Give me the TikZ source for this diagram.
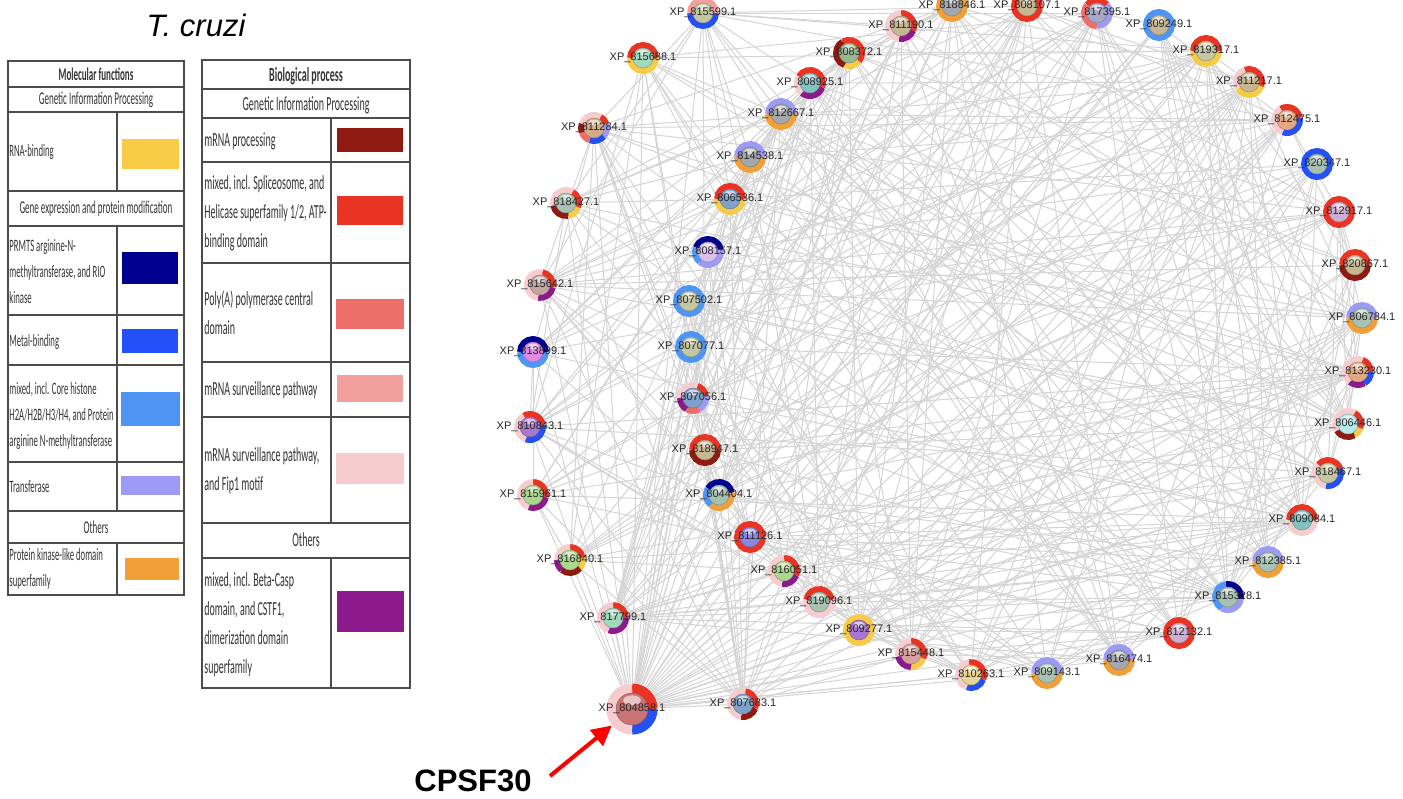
\documentclass[tikz,border=0pt]{standalone}
\usepackage{fontspec}
\setmainfont{Liberation Sans}
\newfontfamily\tabfont[FakeStretch=0.5]{Carlito}
\usetikzlibrary{arrows.meta,backgrounds}

% legend / ring colours
\definecolor{cyel}{HTML}{F7CB45}
\definecolor{cnavy}{HTML}{00008E}
\definecolor{cblue}{HTML}{2450F8}
\definecolor{clblue}{HTML}{4F96F4}
\definecolor{clav}{HTML}{9C9AF4}
\definecolor{corange}{HTML}{F1A039}
\definecolor{cdred}{HTML}{8E1A12}
\definecolor{cred}{HTML}{E93423}
\definecolor{csalmon}{HTML}{EE6F6A}
\definecolor{cpink}{HTML}{F2A09D}
\definecolor{clpink}{HTML}{F7CCCE}
\definecolor{cpurple}{HTML}{8C1A8C}
% ball colours
\definecolor{bmint}{HTML}{A2D8BC}
\definecolor{btan}{HTML}{D2AC84}
\definecolor{bgreen}{HTML}{A8C2B2}
\definecolor{bgray}{HTML}{A4A8AC}
\definecolor{bsteel}{HTML}{7FA2CA}
\definecolor{blilac}{HTML}{DCC0EC}
\definecolor{bmauve}{HTML}{CEAED2}
\definecolor{bteal}{HTML}{82C2C2}
\definecolor{bolive}{HTML}{98B892}
\definecolor{bsand}{HTML}{C6B692}
\definecolor{bslate}{HTML}{A8A8C8}
\definecolor{bpeach}{HTML}{E2AA84}
\definecolor{bcyan}{HTML}{B6EAEA}
\definecolor{bkhaki}{HTML}{C4C8A2}
\definecolor{blime}{HTML}{ACD88E}
\definecolor{bviolet}{HTML}{8A86E4}
\definecolor{bpurple}{HTML}{A878D0}
\definecolor{brose}{HTML}{D6A0A0}
\definecolor{bdust}{HTML}{C4A4A4}
\definecolor{bmagenta}{HTML}{E08AE2}
\definecolor{bred}{HTML}{C87474}
\definecolor{bcream}{HTML}{E6D692}

% one protein: [size]{id}{x,y}{ball}{arcs start/end/colour}
\newcommand\prot[5][1]{%
  \pgfmathsetmacro\rr{#1*13}%
  \pgfmathsetmacro\rw{#1*3}%
  \pgfmathsetmacro\rb{#1*10}%
  \node[protein, minimum size=#1*16pt] (p#2) at (#3) {};
  \foreach \s/\e/\col in {#5}
    \draw[ringseg, line width=\rw pt, \col] (p#2.center) ++(\s:\rr) arc[start angle=\s, end angle=\e, radius=\rr];
  \fill[#4, draw=#4!70!black, line width=.2pt] (p#2.center) circle[radius=\rb];
  \fill[white, opacity=.6] (p#2.center) ++(0,-#1*5.5) ellipse[x radius=#1*5.5, y radius=#1*3];
  \node[xplabel] at (p#2.center) {XP\_#2.1};
}

\def\allprots{815599,815688,811284,818427,812667,814538,806536,808157,808925,808372,
  811190,818846,808107,817395,809249,819317,811217,812475,820347,812917,820867,806784,
  813230,806446,818467,809084,812385,815328,812132,816474,809143,810263,815448,809277,
  819096,816051,811126,804404,815961,816840,817799,807683,815642,813899,810843,807502,
  807077,807056,818947}

\begin{document}
\begin{tikzpicture}[x=0.5pt, y=-0.5pt,
		protein/.style = {circle, inner sep=0pt, draw=none},
		ringseg/.style = {line cap=butt},
		xplabel/.style = {inner sep=0pt, text=black!85, font=\fontsize{5.5}{6}\selectfont},
		ppi/.style = {draw=black!17, line width=0.5pt},
		tabframe/.style = {draw=black!70, line width=1.2pt},
		tabcol/.style = {draw=black!70, line width=0.7pt},
		cellL/.style = {anchor=west, align=left, inner sep=0pt, text=black!80, font=\tabfont\fontsize{8.7}{13}\selectfont},
		cellR/.style = {anchor=west, align=left, inner sep=0pt, text=black!80, font=\tabfont\fontsize{10}{14.5}\selectfont},
		headL/.style = {inner sep=0pt, text=black!80, font=\tabfont\fontsize{9}{13}\selectfont},
		headR/.style = {inner sep=0pt, text=black!80, font=\tabfont\fontsize{10}{14.5}\selectfont}
		]
	\useasboundingbox (0,0) rectangle (1403,798);

	\node[font=\itshape\fontsize{15.5}{18}\selectfont] (title) at (196,25) {T. cruzi};

	% molecular functions table
	\draw[tabframe] (8,61) rectangle (184,595);
	\foreach \y in {87,112,191,226,315,365,462,511,543}
		\draw[tabframe] (8,\y) -- (184,\y);
	\foreach \a/\b in {112/191,226/511,543/595}
		\draw[tabcol] (117,\a) -- (117,\b);
	\node[headL, font=\tabfont\bfseries\fontsize{9}{13}\selectfont] (mfhead) at (96,74) {Molecular functions};
	\node[headL] (mfgip) at (96,100) {Genetic Information Processing};
	\node[cellL] (rnab) at (9,152) {RNA-binding};
	\node[headL] (mfgene) at (96,209) {Gene expression and protein modification};
	\node[cellL] (prmt) at (9,272) {PRMTS arginine-N-\\methyltransferase, and RIO\\kinase};
	\node[cellL] (metal) at (9,342) {Metal-binding};
	\node[cellL] (hist) at (9,416) {mixed, incl. Core histone\\H2A/H2B/H3/H4, and Protein\\arginine N-methyltransferase};
	\node[cellL] (trans) at (9,487) {Transferase};
	\node[headL] (mfoth) at (96,527) {Others};
	\node[cellL] (kinase) at (9,569) {Protein kinase-like domain\\superfamily};
	\fill[cyel] (122,139) rectangle (179,169);
	\fill[cnavy] (122,252) rectangle (178,284);
	\fill[cblue] (122,329) rectangle (178,353);
	\fill[clblue] (121,392) rectangle (180,426);
	\fill[clav] (121,476) rectangle (180,495);
	\fill[corange] (125,558) rectangle (179,580);

	% biological process table
	\draw[tabframe] (202,60) rectangle (410,688);
	\foreach \y in {89,118,162,263,362,417,523,558}
		\draw[tabframe] (202,\y) -- (410,\y);
	\foreach \a/\b in {118/523,558/688}
		\draw[tabcol] (331,\a) -- (331,\b);
	\node[headR, font=\tabfont\bfseries\fontsize{10}{14.5}\selectfont] (bphead) at (306,76) {Biological process};
	\node[headR] (bpgip) at (306,105) {Genetic Information Processing};
	\node[cellR] (mrna) at (204,141) {mRNA processing};
	\node[cellR] (splice) at (204,213) {mixed, incl. Spliceosome, and\\Helicase superfamily 1/2, ATP-\\binding domain};
	\node[cellR] (polya) at (204,313) {Poly(A) polymerase central\\domain};
	\node[cellR] (surv) at (204,390) {mRNA surveillance pathway};
	\node[cellR] (fip) at (204,471) {mRNA surveillance pathway,\\and Fip1 motif};
	\node[headR] (bpoth) at (306,540) {Others};
	\node[cellR] (casp) at (204,625) {mixed, incl. Beta-Casp\\domain, and CSTF1,\\dimerization domain\\superfamily};
	\fill[cdred] (337,128) rectangle (403,152);
	\fill[cred] (337,196) rectangle (403,225);
	\fill[csalmon] (336,299) rectangle (404,329);
	\fill[cpink] (337,375) rectangle (403,402);
	\fill[clpink] (336,453) rectangle (404,484);
	\fill[cpurple] (337,591) rectangle (404,632);

	% network, outer rim
	\prot{815599}{703,13}{bkhaki}{0/180/cblue,180/360/cpink}
	\prot{815688}{643,58}{bmint}{0/180/cyel,180/360/cred}
	\prot{811284}{594,128}{btan}{-60/-20/cred,-20/40/clav,40/110/cblue,110/160/csalmon,160/200/cdred,200/300/clpink}
	\prot{818427}{566,203}{bgreen}{-60/20/cred,20/80/cyel,80/170/cdred,170/300/clpink}
	\prot{815642}{540,285}{bdust}{-80/10/cred,10/100/cpurple,100/280/clpink}
	\prot{813899}{533,352}{bmagenta}{0/180/clblue,180/360/cnavy}
	\prot{810843}{530,427}{bpurple}{-120/-10/cred,-10/110/cblue,110/240/clpink}
	\prot{815961}{533,495}{blime}{-90/10/cred,10/110/cpurple,110/270/clpink}
	\prot{816840}{570,560}{blime}{-90/-10/cred,-10/40/cyel,40/130/cdred,130/180/cpurple,180/270/clpink}
	\prot{817799}{613,618}{bmint}{-90/0/cred,0/110/cpurple,110/270/clpink}
	\prot{807683}{743,704}{bsteel}{-80/20/cred,20/100/cdred,100/280/clpink}
	\prot{819096}{819,602}{bgreen}{-170/-10/cred,-10/190/clpink}
	\prot{809277}{859,630}{bpurple}{0/360/cyel}
	\prot{815448}{911,654}{brose}{-90/20/cred,20/90/cyel,90/170/cpurple,170/270/clpink}
	\prot{810263}{971,675}{bcream}{-100/20/cred,20/110/cblue,110/260/clpink}
	\prot{809143}{1047,673}{bgreen}{0/180/corange,180/360/clav}
	\prot{816474}{1119,660}{bgray}{0/180/corange,180/360/clav}
	\prot{812132}{1179,633}{bmauve}{0/360/cred}
	\prot{815328}{1228,597}{bgreen}{-100/10/cnavy,10/120/clav,120/260/clblue}
	\prot{812385}{1268,562}{bgreen}{0/180/corange,180/360/clav}
	\prot{809084}{1302,520}{bteal}{0/180/clpink,180/360/cred}
	\prot{818467}{1328,473}{bkhaki}{-140/-20/cred,-20/100/cblue,100/220/clpink}
	\prot{806446}{1348,424}{bcyan}{-60/20/cred,20/60/cyel,60/150/cdred,150/300/clpink}
	\prot{813230}{1358,372}{bpeach}{-70/0/cred,0/60/cblue,60/130/cpurple,130/290/clpink}
	\prot{806784}{1362,318}{bgreen}{0/180/corange,180/360/clav}
	\prot{820867}{1355,265}{bsand}{0/180/cdred,180/360/cred}
	\prot{812917}{1339,212}{bmauve}{0/360/cred}
	\prot{820347}{1317,164}{bgreen}{0/360/cblue}
	\prot{812475}{1287,120}{bpeach}{-120/-10/cred,-10/110/cblue,110/240/clpink}
	\prot{811217}{1249,82}{bsand}{-110/20/cred,20/150/cyel,150/250/clpink}
	\prot{819317}{1206,51}{bkhaki}{0/180/cyel,180/360/cred}
	\prot{809249}{1159,25}{bsand}{0/360/clblue}
	\prot{817395}{1097,13}{bslate}{-140/-40/cred,-40/90/clav,90/220/csalmon}
	\prot{808107}{1027,6}{bsand}{0/360/cred}
	\prot{818846}{952,6}{bgray}{0/360/corange}
	\prot{811190}{901,26}{bsand}{-90/20/cred,20/100/cpurple,100/270/clpink}
	\prot{808372}{849,53}{bolive}{-120/40/cred,40/110/cyel,110/240/cdred}
	\prot{808925}{810,83}{bteal}{-150/20/cred,20/130/cpurple,130/210/clpink}
	% network, inner nodes
	\prot{812667}{781,114}{bgray}{0/180/corange,180/360/clav}
	\prot{814538}{750,157}{bgray}{0/180/corange,180/360/clav}
	\prot{806536}{730,199}{bsteel}{0/180/cyel,180/360/cred}
	\prot{808157}{708,252}{blilac}{-160/-10/cnavy,-10/130/clav,130/200/clblue}
	\prot{807502}{689,301}{bkhaki}{0/360/clblue}
	\prot{807077}{691,347}{bkhaki}{0/360/clblue}
	\prot{807056}{693,398}{bsteel}{-70/-10/cred,-10/60/clav,60/120/csalmon,120/180/cpurple,180/290/clpink}
	\prot{818947}{705,450}{bsand}{0/180/cdred,180/360/cred}
	\prot{804404}{719,495}{bgreen}{-150/-10/cnavy,-10/130/corange,130/210/clblue}
	\prot{811126}{750,537}{bviolet}{0/360/cred}
	\prot{816051}{784,571}{blime}{-90/20/cred,20/100/cpurple,100/270/clpink}
	% CPSF30 hub
	\prot[1.6]{804858}{632,709}{bred}{-90/0/cred,0/90/cblue,90/270/clpink}

	% interactions
	\begin{pgfonlayer}{background}
		\pgfmathsetseed{1403}
		\foreach \a [count=\i] in \allprots {
			\draw[ppi] (p804858) -- (p\a);
			\foreach \b [count=\j] in \allprots {
				\ifnum\j>\i
					\pgfmathtruncatemacro\keep{rnd<0.35}
					\ifnum\keep=1 \draw[ppi] (p\a) -- (p\b); \fi
				\fi
			}
		}
	\end{pgfonlayer}

	\node[font=\bfseries\fontsize{15.5}{18}\selectfont] (cpsf) at (473,781) {CPSF30};
	\coordinate (arrtail) at (550,776);
	\draw[draw=red, line width=2pt, -{Triangle[length=10pt,width=10pt]}] (arrtail) -- (p804858);
\end{tikzpicture}
\end{document}
